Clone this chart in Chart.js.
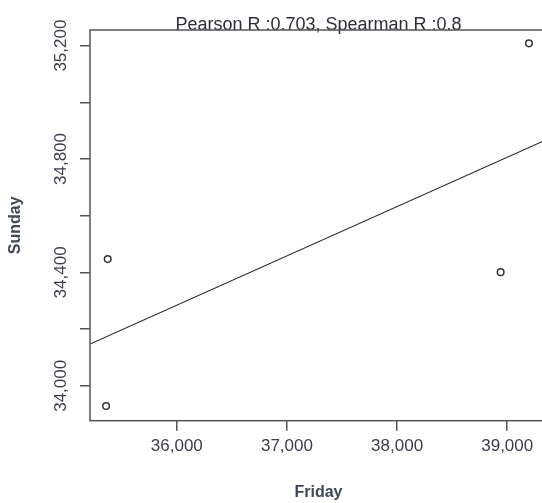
<!DOCTYPE html>
<html>
<head>
<meta charset="utf-8">
<script src="https://cdn.jsdelivr.net/npm/chart.js@4"></script>
<style>
  html, body { margin: 0; padding: 0; background: #fff; }
  #wrap { width: 542px; height: 503px; overflow: hidden; }
</style>
</head>
<body>
<div id="wrap"><canvas id="chart" width="560" height="503"></canvas></div>
<script>
// data
var fridayValues = [35373, 35358, 38940, 39197];
var sundayValues = [34447, 33929, 34401, 35208];
var xTickValues = [36000, 37000, 38000, 39000];
var yTickValues = [34000, 34200, 34400, 34600, 34800, 35000, 35200];
var yLabelValues = [34000, 34400, 34800, 35200];
var xRange = [35212, 39361];
var yRange = [33877, 35255];
var titleText = 'Pearson R :0.703, Spearman R :0.8';

var fontFamily = "'Liberation Sans', Arial, sans-serif";
var axisGrey = '#555';

// least squares fit for the trend line
function fitLine(xs, ys) {
    var n = xs.length, mx = 0, my = 0;
    for (var i = 0; i < n; i++) { mx += xs[i]; my += ys[i]; }
    mx /= n; my /= n;
    var sxy = 0, sxx = 0;
    for (var j = 0; j < n; j++) {
        sxy += (xs[j] - mx) * (ys[j] - my);
        sxx += (xs[j] - mx) * (xs[j] - mx);
    }
    var slope = sxy / sxx;
    return { slope: slope, intercept: my - slope * mx };
}

var fit = fitLine(fridayValues, sundayValues);
var trendPoints = xRange.map(x => ({ x: x, y: fit.intercept + fit.slope * x }));
var scatterPoints = fridayValues.map((x, i) => ({ x: x, y: sundayValues[i] }));

// frame round the plot area, like base R graphics
const boxPlugin = {
    id: 'box',
    afterDraw(chart) {
        const a = chart.chartArea;
        const ctx = chart.ctx;
        ctx.save();
        ctx.strokeStyle = axisGrey;
        ctx.lineWidth = 1.5;
        ctx.strokeRect(a.left, a.top, a.right - a.left, a.bottom - a.top);
        ctx.restore();
    }
};

new Chart(document.getElementById('chart').getContext('2d'), {
    type: 'scatter',
    data: {
        datasets: [
            {
                label: 'points',
                data: scatterPoints,
                pointStyle: 'circle',
                pointRadius: 3.3,
                pointBorderWidth: 1.5,
                pointBorderColor: '#333',
                pointBackgroundColor: 'rgba(0,0,0,0)',
                showLine: false
            },
            {
                label: 'trend',
                data: trendPoints,
                showLine: true,
                borderColor: '#222',
                borderWidth: 1.1,
                pointRadius: 0,
                fill: false
            }
        ]
    },
    options: {
        responsive: false,
        animation: false,
        layout: { padding: { left: 0, right: 13, top: 0, bottom: 0 } },
        plugins: {
            legend: { display: false },
            tooltip: { enabled: false }
        },
        scales: {
            x: {
                type: 'linear',
                position: 'bottom',
                min: xRange[0],
                max: xRange[1],
                afterBuildTicks: s => { s.ticks = xTickValues.map(v => ({ value: v })); },
                afterFit: s => { s.height = 82.3; },
                grid: { drawOnChartArea: false, drawTicks: true, tickLength: 10, color: axisGrey, lineWidth: 1.5 },
                border: { display: false },
                ticks: {
                    autoSkip: false,
                    maxRotation: 0,
                    padding: 5,
                    color: '#3c3c4c',
                    font: { family: fontFamily, size: 17 },
                    callback: v => v.toLocaleString('en-US')
                },
                title: {
                    display: true,
                    text: 'Friday',
                    color: '#3f4858',
                    font: { family: fontFamily, size: 16, weight: 'bold' },
                    padding: { top: 0, bottom: 0.5 }
                }
            },
            xTop: {
                type: 'linear',
                position: 'top',
                min: xRange[0],
                max: xRange[1],
                afterFit: s => { s.height = 30; },
                grid: { display: false },
                border: { display: false },
                ticks: { display: false },
                title: {
                    display: true,
                    text: titleText,
                    color: '#2e2e38',
                    font: { family: fontFamily, size: 18 },
                    padding: { top: 14.5, bottom: 0 }
                }
            },
            y: {
                type: 'linear',
                position: 'left',
                min: yRange[0],
                max: yRange[1],
                afterBuildTicks: s => { s.ticks = yTickValues.map(v => ({ value: v })); },
                afterFit: s => { s.width = 90; },
                grid: { drawOnChartArea: false, drawTicks: true, tickLength: 10, color: axisGrey, lineWidth: 1.5 },
                border: { display: false },
                ticks: {
                    autoSkip: false,
                    minRotation: 90,
                    maxRotation: 90,
                    crossAlign: 'center',
                    padding: -7.5,
                    color: '#3c3c4c',
                    font: { family: fontFamily, size: 17 },
                    callback: v => yLabelValues.includes(v) ? v.toLocaleString('en-US') : ''
                },
                title: {
                    display: true,
                    text: 'Sunday',
                    color: '#3f4858',
                    font: { family: fontFamily, size: 16, weight: 'bold' },
                    padding: { top: 6, bottom: 0 }
                }
            }
        }
    },
    plugins: [boxPlugin]
});
</script>
</body>
</html>
